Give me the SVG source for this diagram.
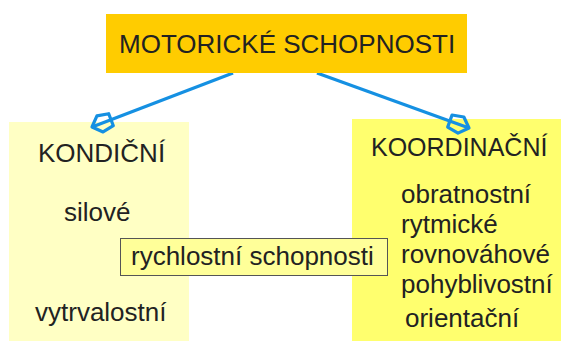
<svg xmlns="http://www.w3.org/2000/svg" width="561" height="341" viewBox="0 0 561 341">
  <style>
    text { font-family: "Liberation Sans", Arial, sans-serif; font-size: 26px; fill: #222222; }
    .link { stroke: #1590E2; stroke-width: 3.2; fill: none; }
  </style>
  <defs>
    <marker id="openHead" markerUnits="userSpaceOnUse" markerWidth="30" markerHeight="30" viewBox="-24 -12 28 24" refX="0" refY="0" orient="auto">
      <path d="M0,0 L-8,-8 L-19,-6 L-19,6 L-8,8 Z" fill="none" stroke="#1590E2" stroke-width="3" stroke-linejoin="round"/>
    </marker>
  </defs>

  <rect width="561" height="341" fill="#FFFFFF"/>

  <!-- condition abilities column -->
  <g id="kondicni">
    <rect x="9" y="122" width="180" height="219" fill="#FFFFC4"/>
    <text x="38" y="162">KONDIČNÍ</text>
    <text x="64" y="221">silové</text>
    <text x="35" y="321">vytrvalostní</text>
  </g>

  <!-- coordination abilities column -->
  <g id="koordinacni">
    <rect x="352" y="119" width="209" height="222" fill="#FFFF6E"/>
    <text x="371" y="156" style="font-size:25px">KOORDINAČNÍ</text>
    <text x="401" y="203">obratnostní</text>
    <text x="401" y="233">rytmické</text>
    <text x="401" y="263">rovnováhové</text>
    <text x="401" y="293">pohyblivostní</text>
    <text x="405" y="327">orientační</text>
  </g>

  <!-- speed abilities, shared by both -->
  <g id="rychlostni">
    <rect x="120.5" y="238.5" width="267" height="37" fill="#FFFF99" stroke="#555555" stroke-width="1"/>
    <text x="131" y="265">rychlostní schopnosti</text>
  </g>

  <g id="connectors">
    <line class="link" x1="233" y1="73" x2="92" y2="127" marker-end="url(#openHead)"/>
    <line class="link" x1="317" y1="73" x2="469" y2="128" marker-end="url(#openHead)"/>
  </g>

  <!-- root -->
  <g id="motoricke">
    <rect x="106" y="14" width="361" height="59" fill="#FFCC00"/>
    <text x="119" y="53">MOTORICKÉ SCHOPNOSTI</text>
  </g>
</svg>
